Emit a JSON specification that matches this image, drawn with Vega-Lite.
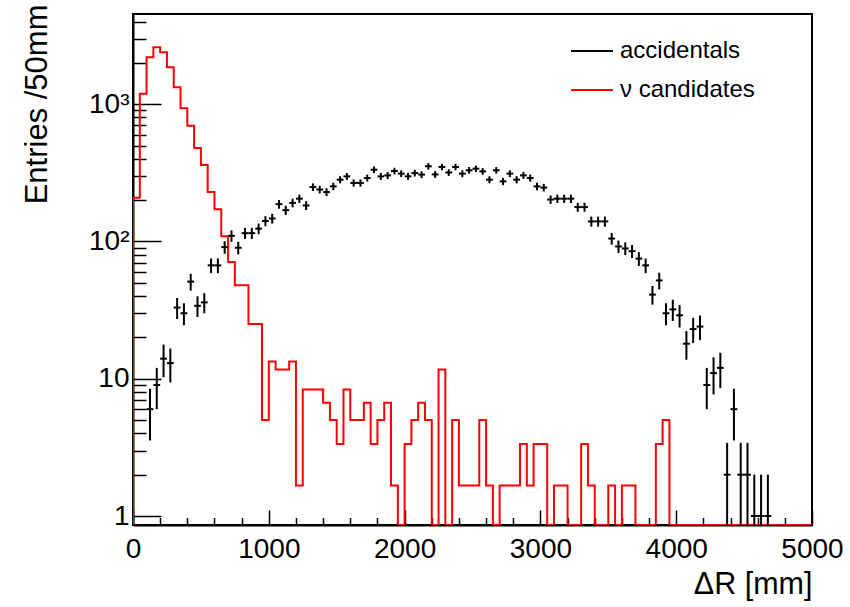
{
  "$schema": "https://vega.github.io/schema/vega-lite/v6.json",
  "width": 679,
  "height": 511,
  "autosize": "none",
  "padding": {"left": 133, "top": 14, "right": 38, "bottom": 82},
  "background": "white",
  "config": {
    "font": "Liberation Sans",
    "view": {"stroke": "black", "strokeWidth": 2},
    "axis": {"domainColor": "black", "domainWidth": 2, "tickColor": "black", "tickWidth": 1.5, "labelColor": "black", "titleColor": "black", "grid": false, "labelFont": "Liberation Sans", "titleFont": "Liberation Sans", "titleFontWeight": "normal", "labelOverlap": false}
  },
  "datasets": {
    "nu": [
      {"lo":0,"hi":50,"n":208},{"lo":50,"hi":100,"n":1190},{"lo":100,"hi":150,"n":2200},{"lo":150,"hi":200,"n":2600},{"lo":200,"hi":250,"n":2390},
      {"lo":250,"hi":300,"n":1860},{"lo":300,"hi":350,"n":1330},{"lo":350,"hi":400,"n":935},{"lo":400,"hi":450,"n":698},{"lo":450,"hi":500,"n":479},
      {"lo":500,"hi":550,"n":361},{"lo":550,"hi":600,"n":229},{"lo":600,"hi":650,"n":172},{"lo":650,"hi":700,"n":109},{"lo":700,"hi":750,"n":71},
      {"lo":750,"hi":800,"n":48},{"lo":800,"hi":850,"n":48},{"lo":850,"hi":900,"n":25.05},{"lo":900,"hi":950,"n":25.05},{"lo":950,"hi":1000,"n":5.01},
      {"lo":1000,"hi":1050,"n":13.36},{"lo":1050,"hi":1100,"n":11.69},{"lo":1100,"hi":1150,"n":11.69},{"lo":1150,"hi":1200,"n":13.36},{"lo":1200,"hi":1250,"n":1.67},
      {"lo":1250,"hi":1300,"n":8.35},{"lo":1300,"hi":1350,"n":8.35},{"lo":1350,"hi":1400,"n":8.35},{"lo":1400,"hi":1450,"n":6.68},{"lo":1450,"hi":1500,"n":5.01},
      {"lo":1500,"hi":1550,"n":3.34},{"lo":1550,"hi":1600,"n":8.35},{"lo":1600,"hi":1650,"n":5.01},{"lo":1650,"hi":1700,"n":5.01},{"lo":1700,"hi":1750,"n":6.68},
      {"lo":1750,"hi":1800,"n":3.34},{"lo":1800,"hi":1850,"n":5.01},{"lo":1850,"hi":1900,"n":6.68},{"lo":1900,"hi":1950,"n":1.67},{"lo":1950,"hi":2000,"n":0},
      {"lo":2000,"hi":2050,"n":3.34},{"lo":2050,"hi":2100,"n":5.01},{"lo":2100,"hi":2150,"n":6.68},{"lo":2150,"hi":2200,"n":5.01},{"lo":2200,"hi":2250,"n":0},
      {"lo":2250,"hi":2300,"n":11.69},{"lo":2300,"hi":2350,"n":0},{"lo":2350,"hi":2400,"n":5.01},{"lo":2400,"hi":2450,"n":1.67},{"lo":2450,"hi":2500,"n":1.67},
      {"lo":2500,"hi":2550,"n":1.67},{"lo":2550,"hi":2600,"n":5.01},{"lo":2600,"hi":2650,"n":1.67},{"lo":2650,"hi":2700,"n":0},{"lo":2700,"hi":2750,"n":1.67},
      {"lo":2750,"hi":2800,"n":1.67},{"lo":2800,"hi":2850,"n":1.67},{"lo":2850,"hi":2900,"n":3.34},{"lo":2900,"hi":2950,"n":1.67},{"lo":2950,"hi":3000,"n":3.34},
      {"lo":3000,"hi":3050,"n":3.34},{"lo":3050,"hi":3100,"n":0},{"lo":3100,"hi":3150,"n":1.67},{"lo":3150,"hi":3200,"n":1.67},{"lo":3200,"hi":3250,"n":0},
      {"lo":3250,"hi":3300,"n":0},{"lo":3300,"hi":3350,"n":3.34},{"lo":3350,"hi":3400,"n":1.67},{"lo":3400,"hi":3450,"n":0},{"lo":3450,"hi":3500,"n":0},
      {"lo":3500,"hi":3550,"n":1.67},{"lo":3550,"hi":3600,"n":0},{"lo":3600,"hi":3650,"n":1.67},{"lo":3650,"hi":3700,"n":1.67},{"lo":3700,"hi":3750,"n":0},
      {"lo":3750,"hi":3800,"n":0},{"lo":3800,"hi":3850,"n":0},{"lo":3850,"hi":3900,"n":3.34},{"lo":3900,"hi":3950,"n":5.01},{"lo":3950,"hi":4000,"n":0},
      {"lo":4000,"hi":4050,"n":0},{"lo":4050,"hi":4100,"n":0},{"lo":4100,"hi":4150,"n":0},{"lo":4150,"hi":4200,"n":0},{"lo":4200,"hi":4250,"n":0},
      {"lo":4250,"hi":4300,"n":0},{"lo":4300,"hi":4350,"n":0},{"lo":4350,"hi":4400,"n":0},{"lo":4400,"hi":4450,"n":0},{"lo":4450,"hi":4500,"n":0},
      {"lo":4500,"hi":4550,"n":0},{"lo":4550,"hi":4600,"n":0},{"lo":4600,"hi":4650,"n":0},{"lo":4650,"hi":4700,"n":0},{"lo":4700,"hi":4750,"n":0},
      {"lo":4750,"hi":4800,"n":0},{"lo":4800,"hi":4850,"n":0},{"lo":4850,"hi":4900,"n":0},{"lo":4900,"hi":4950,"n":0},{"lo":4950,"hi":5000,"n":0}
    ],
    "acc": [
      {"lo":100,"hi":150,"r":125,"n":6,"err":2.45},{"lo":150,"hi":200,"r":175,"n":9,"err":3},{"lo":200,"hi":250,"r":225,"n":14,"err":3.74},
      {"lo":250,"hi":300,"r":275,"n":13,"err":3.61},{"lo":300,"hi":350,"r":325,"n":33,"err":5.74},{"lo":350,"hi":400,"r":375,"n":30,"err":5.48},
      {"lo":400,"hi":450,"r":425,"n":51,"err":7.14},{"lo":450,"hi":500,"r":475,"n":34,"err":5.83},{"lo":500,"hi":550,"r":525,"n":36,"err":6},
      {"lo":550,"hi":600,"r":575,"n":67,"err":8.19},{"lo":600,"hi":650,"r":625,"n":67,"err":8.19},{"lo":650,"hi":700,"r":675,"n":91,"err":9.54},
      {"lo":700,"hi":750,"r":725,"n":110,"err":10.49},{"lo":750,"hi":800,"r":775,"n":90,"err":9.49},{"lo":800,"hi":850,"r":825,"n":115,"err":10.72},
      {"lo":850,"hi":900,"r":875,"n":115,"err":10.72},{"lo":900,"hi":950,"r":925,"n":124,"err":11.14},{"lo":950,"hi":1000,"r":975,"n":141,"err":11.87},
      {"lo":1000,"hi":1050,"r":1025,"n":147,"err":12.12},{"lo":1050,"hi":1100,"r":1075,"n":187,"err":13.67},{"lo":1100,"hi":1150,"r":1125,"n":169,"err":13},
      {"lo":1150,"hi":1200,"r":1175,"n":191,"err":13.82},{"lo":1200,"hi":1250,"r":1225,"n":205,"err":14.32},{"lo":1250,"hi":1300,"r":1275,"n":183,"err":13.53},
      {"lo":1300,"hi":1350,"r":1325,"n":249,"err":15.78},{"lo":1350,"hi":1400,"r":1375,"n":239,"err":15.46},{"lo":1400,"hi":1450,"r":1425,"n":229,"err":15.13},
      {"lo":1450,"hi":1500,"r":1475,"n":252,"err":15.87},{"lo":1500,"hi":1550,"r":1525,"n":282,"err":16.79},{"lo":1550,"hi":1600,"r":1575,"n":298,"err":17.26},
      {"lo":1600,"hi":1650,"r":1625,"n":267,"err":16.34},{"lo":1650,"hi":1700,"r":1675,"n":267,"err":16.34},{"lo":1700,"hi":1750,"r":1725,"n":290,"err":17.03},
      {"lo":1750,"hi":1800,"r":1775,"n":333,"err":18.25},{"lo":1800,"hi":1850,"r":1825,"n":298,"err":17.26},{"lo":1850,"hi":1900,"r":1875,"n":303,"err":17.41},
      {"lo":1900,"hi":1950,"r":1925,"n":326,"err":18.06},{"lo":1950,"hi":2000,"r":1975,"n":312,"err":17.66},{"lo":2000,"hi":2050,"r":2025,"n":298,"err":17.26},
      {"lo":2050,"hi":2100,"r":2075,"n":315,"err":17.75},{"lo":2100,"hi":2150,"r":2125,"n":307,"err":17.52},{"lo":2150,"hi":2200,"r":2175,"n":353,"err":18.79},
      {"lo":2200,"hi":2250,"r":2225,"n":308,"err":17.55},{"lo":2250,"hi":2300,"r":2275,"n":349,"err":18.68},{"lo":2300,"hi":2350,"r":2325,"n":318,"err":17.83},
      {"lo":2350,"hi":2400,"r":2375,"n":349,"err":18.68},{"lo":2400,"hi":2450,"r":2425,"n":312,"err":17.66},{"lo":2450,"hi":2500,"r":2475,"n":330,"err":18.17},
      {"lo":2500,"hi":2550,"r":2525,"n":339,"err":18.41},{"lo":2550,"hi":2600,"r":2575,"n":324,"err":18},{"lo":2600,"hi":2650,"r":2625,"n":282,"err":16.79},
      {"lo":2650,"hi":2700,"r":2675,"n":330,"err":18.17},{"lo":2700,"hi":2750,"r":2725,"n":274,"err":16.55},{"lo":2750,"hi":2800,"r":2775,"n":312,"err":17.66},
      {"lo":2800,"hi":2850,"r":2825,"n":282,"err":16.79},{"lo":2850,"hi":2900,"r":2875,"n":303,"err":17.41},{"lo":2900,"hi":2950,"r":2925,"n":290,"err":17.03},
      {"lo":2950,"hi":3000,"r":2975,"n":252,"err":15.87},{"lo":3000,"hi":3050,"r":3025,"n":247,"err":15.72},{"lo":3050,"hi":3100,"r":3075,"n":202,"err":14.21},
      {"lo":3100,"hi":3150,"r":3125,"n":205,"err":14.32},{"lo":3150,"hi":3200,"r":3175,"n":205,"err":14.32},{"lo":3200,"hi":3250,"r":3225,"n":205,"err":14.32},
      {"lo":3250,"hi":3300,"r":3275,"n":178,"err":13.34},{"lo":3300,"hi":3350,"r":3325,"n":178,"err":13.34},{"lo":3350,"hi":3400,"r":3375,"n":140,"err":11.83},
      {"lo":3400,"hi":3450,"r":3425,"n":140,"err":11.83},{"lo":3450,"hi":3500,"r":3475,"n":140,"err":11.83},{"lo":3500,"hi":3550,"r":3525,"n":105,"err":10.25},
      {"lo":3550,"hi":3600,"r":3575,"n":92,"err":9.59},{"lo":3600,"hi":3650,"r":3625,"n":89,"err":9.43},{"lo":3650,"hi":3700,"r":3675,"n":85,"err":9.22},
      {"lo":3700,"hi":3750,"r":3725,"n":75,"err":8.66},{"lo":3750,"hi":3800,"r":3775,"n":67,"err":8.19},{"lo":3800,"hi":3850,"r":3825,"n":41,"err":6.4},
      {"lo":3850,"hi":3900,"r":3875,"n":52,"err":7.21},{"lo":3900,"hi":3950,"r":3925,"n":30,"err":5.48},{"lo":3950,"hi":4000,"r":3975,"n":32,"err":5.66},
      {"lo":4000,"hi":4050,"r":4025,"n":29,"err":5.39},{"lo":4050,"hi":4100,"r":4075,"n":18,"err":4.24},{"lo":4100,"hi":4150,"r":4125,"n":23,"err":4.8},
      {"lo":4150,"hi":4200,"r":4175,"n":24,"err":4.9},{"lo":4200,"hi":4250,"r":4225,"n":9,"err":3},{"lo":4250,"hi":4300,"r":4275,"n":11,"err":3.32},
      {"lo":4300,"hi":4350,"r":4325,"n":12,"err":3.46},{"lo":4350,"hi":4400,"r":4375,"n":2,"err":1.41},{"lo":4400,"hi":4450,"r":4425,"n":6,"err":2.45},
      {"lo":4450,"hi":4500,"r":4475,"n":2,"err":1.41},{"lo":4500,"hi":4550,"r":4525,"n":2,"err":1.41},{"lo":4550,"hi":4600,"r":4575,"n":1,"err":1},
      {"lo":4600,"hi":4650,"r":4625,"n":1,"err":1},{"lo":4650,"hi":4700,"r":4675,"n":1,"err":1}
    ]
  },
  "layer": [
    {
      "data": {"name": "nu"},
      "transform": [{"fold": ["lo", "hi"], "as": ["edge_kind", "edge"]}],
      "mark": {"type": "line", "strokeWidth": 2, "clip": true},
      "encoding": {
        "x": {
          "field": "edge", "type": "quantitative", "title": "ΔR [mm]",
          "scale": {"domain": [0, 5000], "nice": false, "zero": false},
          "axis": {
            "values": [0,200,400,600,800,1000,1200,1400,1600,1800,2000,2200,2400,2600,2800,3000,3200,3400,3600,3800,4000,4200,4400,4600,4800,5000],
            "labelExpr": "datum.value % 1000 === 0 ? '' + datum.value : ''",
            "tickSize": {"condition": {"test": "datum.value % 1000 === 0", "value": -15}, "value": -7.5},
            "labelPadding": 25, "labelFontSize": 28, "labelFlush": false, "labelOverlap": false, "labelBound": false,
            "title": "ΔR [mm]", "titleFontSize": 30.5, "titleAnchor": "end", "titleAlign": "right", "titleBaseline": "alphabetic", "titleX": 679, "titleY": 68
          }
        },
        "y": {
          "field": "n", "type": "quantitative", "title": "Entries /50mm",
          "scale": {"type": "log", "domain": [0.86, 4540], "clamp": true, "nice": false},
          "axis": {
            "values": [1,2,3,4,5,6,7,8,9,10,20,30,40,50,60,70,80,90,100,200,300,400,500,600,700,800,900,1000,2000,3000,4000],
            "labelExpr": "datum.value == 1 ? '1' : datum.value == 10 ? '10' : datum.value == 100 ? '10²' : datum.value == 1000 ? '10³' : ''",
            "tickSize": {"condition": {"test": "datum.value == 1 || datum.value == 10 || datum.value == 100 || datum.value == 1000", "value": -28}, "value": -13},
            "labelPadding": 32, "labelFontSize": 28, "labelOverlap": false, "labelBound": false,
            "title": "Entries /50mm", "titleFontSize": 31, "titleAngle": 270, "titleAnchor": "end", "titleAlign": "right", "titleBaseline": "alphabetic", "titleX": -87, "titleY": -10
          }
        },
        "order": [{"field": "edge", "type": "quantitative"}, {"field": "edge_kind", "type": "nominal"}],
        "color": {
          "datum": "ν candidates",
          "scale": {"domain": ["accidentals", "ν candidates"], "range": ["black", "red"]},
          "legend": {
            "title": null, "orient": "none", "legendX": 437, "legendY": 15,
            "symbolType": "stroke", "symbolSize": 1764, "symbolStrokeWidth": 2,
            "labelFontSize": 24, "labelFont": "Liberation Sans", "labelColor": "black",
            "labelOffset": 6, "rowPadding": 5, "padding": 0
          }
        }
      }
    },
    {
      "data": {"name": "nu"},
      "transform": [{"filter": "datum.lo == 0"}],
      "mark": {"type": "rule", "strokeWidth": 2, "clip": true},
      "encoding": {
        "x": {"field": "lo", "type": "quantitative", "title": "ΔR [mm]",
          "axis": {
            "values": [0,200,400,600,800,1000,1200,1400,1600,1800,2000,2200,2400,2600,2800,3000,3200,3400,3600,3800,4000,4200,4400,4600,4800,5000],
            "labelExpr": "datum.value % 1000 === 0 ? '' + datum.value : ''",
            "tickSize": {"condition": {"test": "datum.value % 1000 === 0", "value": -15}, "value": -7.5},
            "labelPadding": 25, "labelFontSize": 28, "labelFlush": false, "labelOverlap": false, "labelBound": false,
            "title": "ΔR [mm]", "titleFontSize": 30.5, "titleAnchor": "end", "titleAlign": "right", "titleBaseline": "alphabetic", "titleX": 679, "titleY": 68
          }
        },
        "y": {"field": "n", "type": "quantitative", "title": "Entries /50mm",
          "axis": {
            "values": [1,2,3,4,5,6,7,8,9,10,20,30,40,50,60,70,80,90,100,200,300,400,500,600,700,800,900,1000,2000,3000,4000],
            "labelExpr": "datum.value == 1 ? '1' : datum.value == 10 ? '10' : datum.value == 100 ? '10²' : datum.value == 1000 ? '10³' : ''",
            "tickSize": {"condition": {"test": "datum.value == 1 || datum.value == 10 || datum.value == 100 || datum.value == 1000", "value": -28}, "value": -13},
            "labelPadding": 32, "labelFontSize": 28, "labelOverlap": false, "labelBound": false,
            "title": "Entries /50mm", "titleFontSize": 31, "titleAngle": 270, "titleAnchor": "end", "titleAlign": "right", "titleBaseline": "alphabetic", "titleX": -87, "titleY": -10
          }
        },
        "y2": {"datum": 0},
        "color": {"datum": "ν candidates"}
      }
    },
    {
      "data": {"name": "acc"},
      "mark": {"type": "rule", "strokeWidth": 2},
      "encoding": {
        "x": {"field": "lo", "type": "quantitative", "title": "ΔR [mm]",
          "axis": {
            "values": [0,200,400,600,800,1000,1200,1400,1600,1800,2000,2200,2400,2600,2800,3000,3200,3400,3600,3800,4000,4200,4400,4600,4800,5000],
            "labelExpr": "datum.value % 1000 === 0 ? '' + datum.value : ''",
            "tickSize": {"condition": {"test": "datum.value % 1000 === 0", "value": -15}, "value": -7.5},
            "labelPadding": 25, "labelFontSize": 28, "labelFlush": false, "labelOverlap": false, "labelBound": false,
            "title": "ΔR [mm]", "titleFontSize": 30.5, "titleAnchor": "end", "titleAlign": "right", "titleBaseline": "alphabetic", "titleX": 679, "titleY": 68
          }
        },
        "x2": {"field": "hi"},
        "y": {"field": "n", "type": "quantitative", "title": "Entries /50mm",
          "axis": {
            "values": [1,2,3,4,5,6,7,8,9,10,20,30,40,50,60,70,80,90,100,200,300,400,500,600,700,800,900,1000,2000,3000,4000],
            "labelExpr": "datum.value == 1 ? '1' : datum.value == 10 ? '10' : datum.value == 100 ? '10²' : datum.value == 1000 ? '10³' : ''",
            "tickSize": {"condition": {"test": "datum.value == 1 || datum.value == 10 || datum.value == 100 || datum.value == 1000", "value": -28}, "value": -13},
            "labelPadding": 32, "labelFontSize": 28, "labelOverlap": false, "labelBound": false,
            "title": "Entries /50mm", "titleFontSize": 31, "titleAngle": 270, "titleAnchor": "end", "titleAlign": "right", "titleBaseline": "alphabetic", "titleX": -87, "titleY": -10
          }
        },
        "color": {"datum": "accidentals"}
      }
    },
    {
      "data": {"name": "acc"},
      "mark": {"type": "errorbar", "thickness": 2, "clip": true},
      "encoding": {
        "x": {"field": "r", "type": "quantitative", "title": "ΔR [mm]",
          "axis": {
            "values": [0,200,400,600,800,1000,1200,1400,1600,1800,2000,2200,2400,2600,2800,3000,3200,3400,3600,3800,4000,4200,4400,4600,4800,5000],
            "labelExpr": "datum.value % 1000 === 0 ? '' + datum.value : ''",
            "tickSize": {"condition": {"test": "datum.value % 1000 === 0", "value": -15}, "value": -7.5},
            "labelPadding": 25, "labelFontSize": 28, "labelFlush": false, "labelOverlap": false, "labelBound": false,
            "title": "ΔR [mm]", "titleFontSize": 30.5, "titleAnchor": "end", "titleAlign": "right", "titleBaseline": "alphabetic", "titleX": 679, "titleY": 68
          }
        },
        "y": {"field": "n", "type": "quantitative", "title": "Entries /50mm",
          "axis": {
            "values": [1,2,3,4,5,6,7,8,9,10,20,30,40,50,60,70,80,90,100,200,300,400,500,600,700,800,900,1000,2000,3000,4000],
            "labelExpr": "datum.value == 1 ? '1' : datum.value == 10 ? '10' : datum.value == 100 ? '10²' : datum.value == 1000 ? '10³' : ''",
            "tickSize": {"condition": {"test": "datum.value == 1 || datum.value == 10 || datum.value == 100 || datum.value == 1000", "value": -28}, "value": -13},
            "labelPadding": 32, "labelFontSize": 28, "labelOverlap": false, "labelBound": false,
            "title": "Entries /50mm", "titleFontSize": 31, "titleAngle": 270, "titleAnchor": "end", "titleAlign": "right", "titleBaseline": "alphabetic", "titleX": -87, "titleY": -10
          }
        },
        "yError": {"field": "err"},
        "color": {"datum": "accidentals"}
      }
    }
  ]
}
